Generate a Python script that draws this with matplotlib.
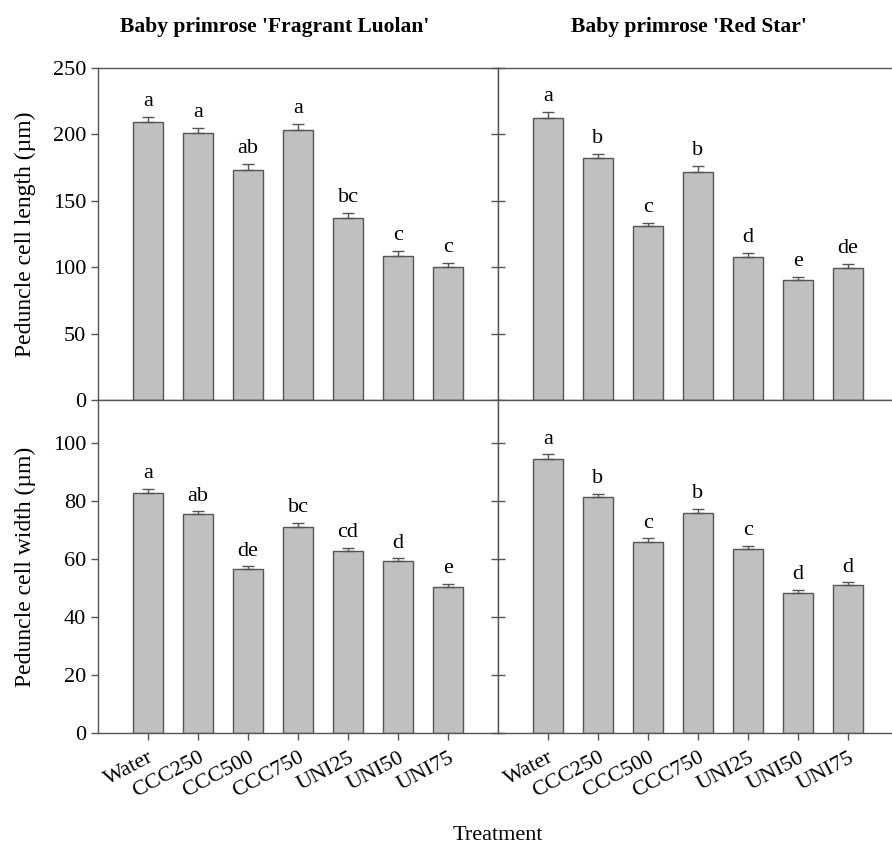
import numpy as np
import matplotlib
matplotlib.use("Agg")
import matplotlib.pyplot as plt

plt.rcParams['font.family'] = ['Liberation Serif', 'DejaVu Serif']

treatments = ["Water", "CCC250", "CCC500", "CCC750", "UNI25", "UNI50", "UNI75"]

# peduncle cell length (um)
len_luolan = [209.5, 201, 173, 203.5, 137, 108.5, 100.5]
len_luolan_err = [3.5, 4, 4.5, 4.5, 4, 4, 3]
len_luolan_lbl = ["a", "a", "ab", "a", "bc", "c", "c"]
len_redstar = [212.5, 182.5, 131, 172, 107.5, 90.5, 99.5]
len_redstar_err = [4.5, 2.5, 2.5, 4.5, 3, 2, 3]
len_redstar_lbl = ["a", "b", "c", "b", "d", "e", "de"]

# peduncle cell width (um)
wid_luolan = [83, 75.5, 56.5, 71, 62.8, 59.5, 50.5]
wid_luolan_err = [1.2, 1, 1, 1.5, 1, 0.8, 1]
wid_luolan_lbl = ["a", "ab", "de", "bc", "cd", "d", "e"]
wid_redstar = [94.7, 81.5, 66, 76, 63.5, 48.5, 51]
wid_redstar_err = [1.5, 1.2, 1.2, 1.3, 1, 0.8, 1]
wid_redstar_lbl = ["a", "b", "c", "b", "c", "d", "d"]

edge = "#555555"
fill = "#c0c0c0"

fig = plt.figure(figsize=(8.92, 8.46), dpi=100)
L, W = 0.1099, 0.4484
axes = {
    (0, 0): fig.add_axes([L, 0.5272, W, 0.3924]),
    (0, 1): fig.add_axes([L + W, 0.5272, W, 0.3924]),
    (1, 0): fig.add_axes([L, 0.1336, W, 0.3936]),
    (1, 1): fig.add_axes([L + W, 0.1336, W, 0.3936]),
}

panels = [
    ((0, 0), len_luolan, len_luolan_err, len_luolan_lbl, 250, np.arange(0, 251, 50), 4.5),
    ((0, 1), len_redstar, len_redstar_err, len_redstar_lbl, 250, np.arange(0, 251, 50), 4.5),
    ((1, 0), wid_luolan, wid_luolan_err, wid_luolan_lbl, 115, np.arange(0, 101, 20), 2.0),
    ((1, 1), wid_redstar, wid_redstar_err, wid_redstar_lbl, 115, np.arange(0, 101, 20), 2.0),
]

x = np.arange(len(treatments))
for key, vals, errs, lbls, ytop, yt, gap in panels:
    ax = axes[key]
    ax.bar(x, vals, width=0.6, color=fill, edgecolor=edge, linewidth=1.0, zorder=2)
    ax.errorbar(x, vals, yerr=[np.zeros(len(vals)), errs], fmt="none",
                ecolor=edge, elinewidth=1.0, capsize=4, capthick=1.0, zorder=3)
    for xi, v, e, t in zip(x, vals, errs, lbls):
        ax.text(xi, v + e + gap, t, ha="center", va="bottom", fontsize=16)
    ax.set_xlim(-1, 7)
    ax.set_ylim(0, ytop)
    ax.set_yticks(yt)
    for s in ax.spines.values():
        s.set_color(edge)
        s.set_linewidth(1.0)
    ax.tick_params(colors=edge, labelcolor="black", labelsize=16, width=1.0, length=5)
    if key[1] == 0:
        ax.tick_params(axis="y", direction="out")
    else:
        ax.tick_params(axis="y", direction="inout", labelleft=False, length=10)
    if key[0] == 0:
        ax.set_xticks([])
    else:
        ax.set_xticks(x)
        ax.set_xticklabels(treatments, rotation=28, ha="right", rotation_mode="anchor")
        ax.tick_params(axis="x", direction="out", pad=6)

axes[(0, 0)].set_ylabel("Peduncle cell length (µm)", fontsize=17, labelpad=12)
axes[(1, 0)].set_ylabel("Peduncle cell width (µm)", fontsize=17, labelpad=12)

fig.text(0.308, 0.968, "Baby primrose 'Fragrant Luolan'", ha="center", va="center",
         fontsize=15.5, fontweight="bold")
fig.text(0.772, 0.968, "Baby primrose 'Red Star'", ha="center", va="center",
         fontsize=15.5, fontweight="bold")
fig.text(0.558, 0.012, "Treatment", ha="center", va="center", fontsize=16)

fig.savefig("out.png", dpi=100)
